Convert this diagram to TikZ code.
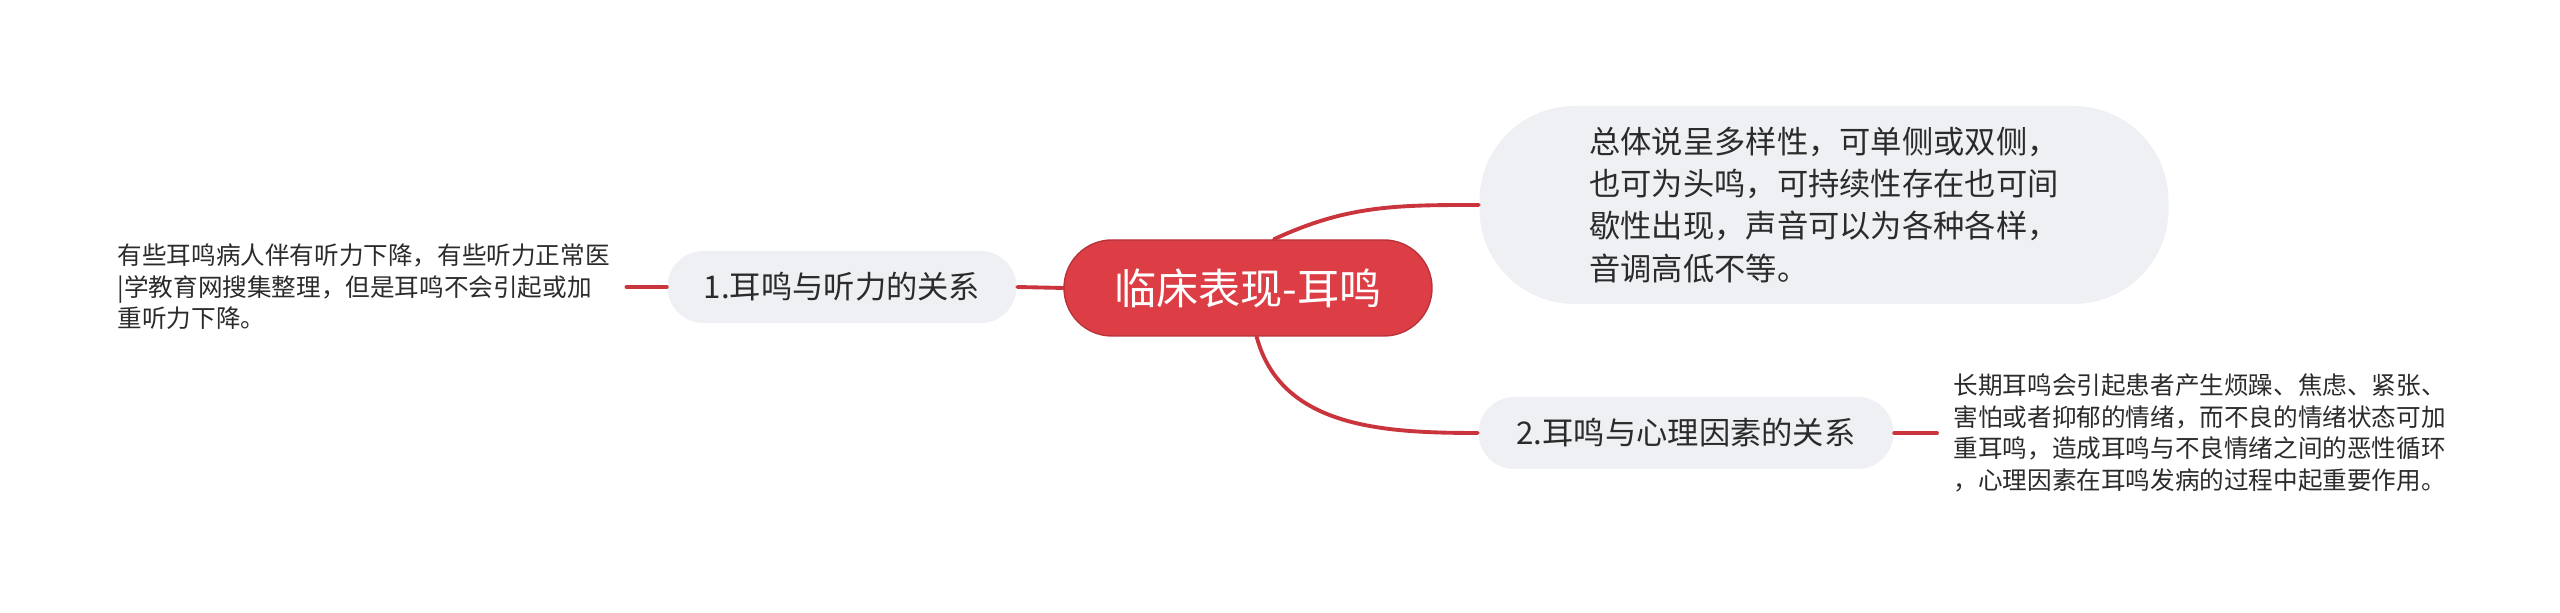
\documentclass[tikz,border=0pt]{standalone}
\usepackage{fontspec}
\setmainfont{Noto Sans CJK SC}
\usepackage{tikz}
\usetikzlibrary{arrows.meta,calc}
\definecolor{mapred}{HTML}{DD3E46}
\definecolor{mapedge}{HTML}{B8323A}
\definecolor{maplink}{HTML}{C9343D}
\definecolor{mapgrey}{HTML}{EEF0F3}
\definecolor{mapink}{HTML}{2B2B2B}

\begin{document}
\begin{tikzpicture}[line cap=round,line join=round,text=mapink,
  rootbox/.style={draw=mapedge,fill=mapred,text=white,rounded corners=.48cm,
    minimum width=3.68cm,minimum height=.96cm,inner sep=0pt,
    font=\fontsize{12pt}{14pt}\selectfont},
  topic/.style={fill=mapgrey,rounded corners=.36cm,minimum height=.72cm,inner sep=0pt,
    font=\fontsize{8.9pt}{11pt}\selectfont},
  bubble/.style={fill=mapgrey,rounded corners=.95cm,minimum width=6.89cm,minimum height=1.98cm,
    align=left,inner sep=0pt,font=\fontsize{8.9pt}{12pt}\selectfont},
  leaf/.style={align=left,inner sep=.16cm,font=\fontsize{7pt}{9pt}\selectfont},
  link/.style={maplink,line width=1.1pt}]
\path[use as bounding box] (0,0) rectangle (25.6,6.13);
\fill[white] (0,0) rectangle (25.6,6.13);

% 中心主题与分支
\node[rootbox] (root) at (12.48,3.25) {临床表现-耳鸣};
\node[bubble] (total) at (18.24,4.08) {总体说呈多样性，可单侧或双侧，\\也可为头鸣，可持续性存在也可间\\歇性出现，声音可以为各种各样，\\音调高低不等。};
\node[topic,minimum width=3.49cm] (hear) at (8.42,3.26) {1.耳鸣与听力的关系};
\node[topic,minimum width=4.15cm] (mind) at (16.86,1.80) {2.耳鸣与心理因素的关系};

% 叶子说明
\node[leaf,anchor=west] (hearnote) at (1.01,3.26) {有些耳鸣病人伴有听力下降，有些听力正常医\\|学教育网搜集整理，但是耳鸣不会引起或加\\重听力下降。};
\node[leaf,anchor=west] (mindnote) at (19.37,1.80) {长期耳鸣会引起患者产生烦躁、焦虑、紧张、\\害怕或者抑郁的情绪，而不良的情绪状态可加\\重耳鸣，造成耳鸣与不良情绪之间的恶性循环\\，心理因素在耳鸣发病的过程中起重要作用。};

% 连线
\draw[link] (root.west) -- (hear.east);
\draw[link] (root.62) to[out=25,in=180] (total.west);
\draw[link] (root.-80) to[out=-75,in=180] (mind.west);
\draw[link] (hear.west) -- (hearnote.east);
\draw[link] (mind.east) -- (mindnote.west);
\end{tikzpicture}
\end{document}
